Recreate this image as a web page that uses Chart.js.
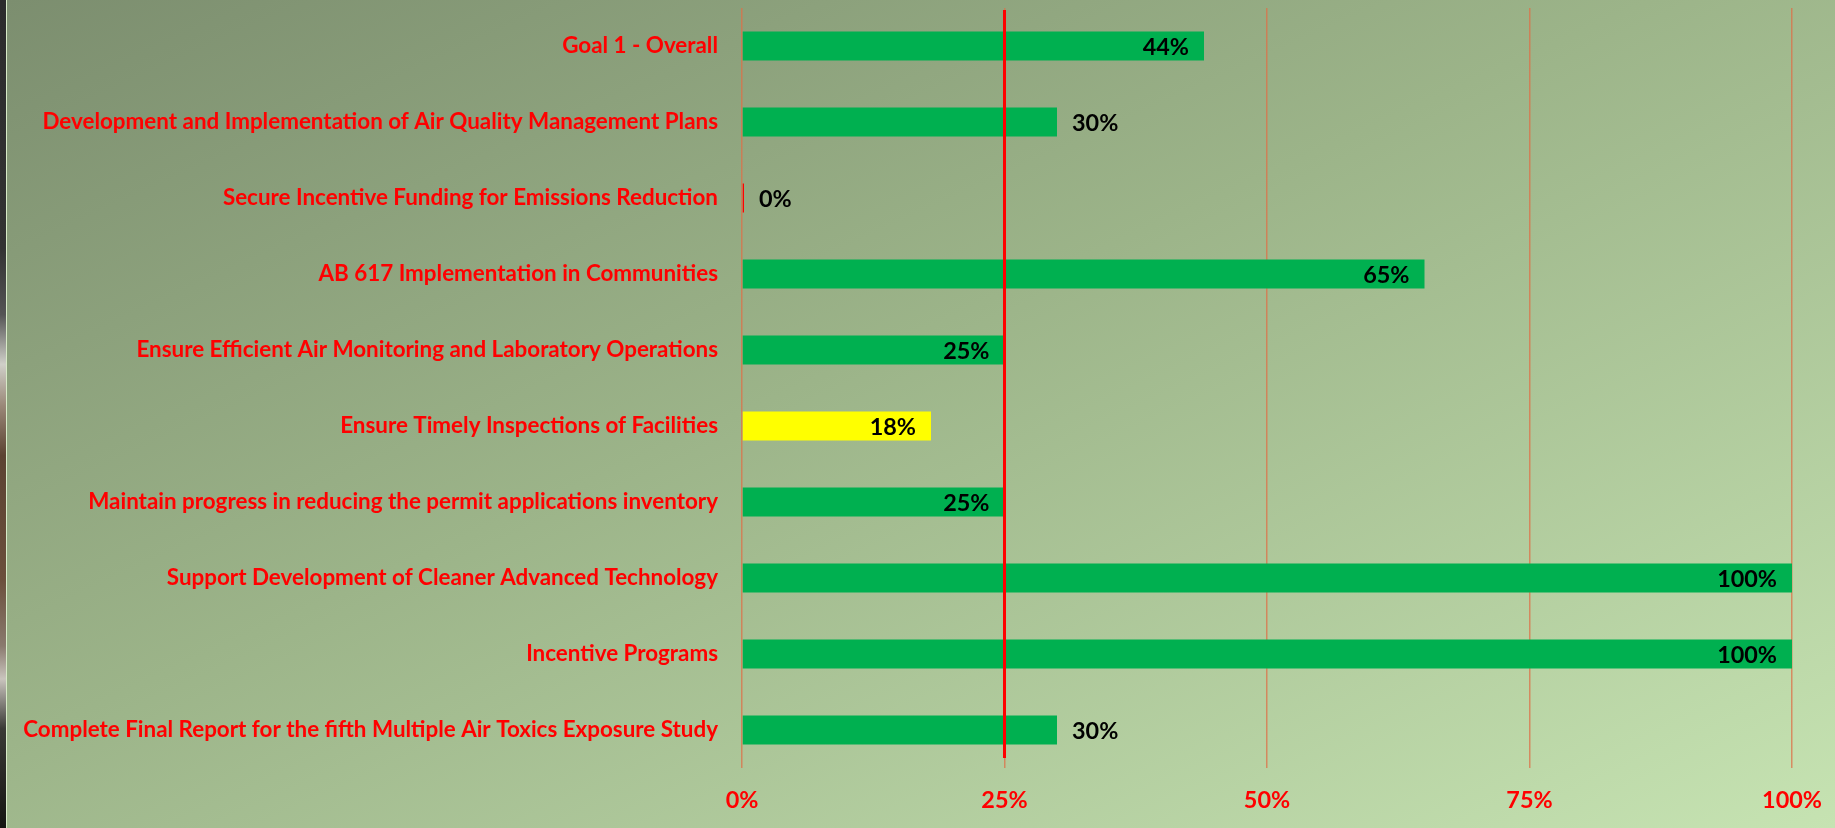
<!DOCTYPE html>
<html>
<head>
<meta charset="utf-8">
<script src="https://cdn.jsdelivr.net/npm/chart.js@4.4.1/dist/chart.umd.min.js"></script>
<style>
  html, body { margin: 0; padding: 0; width: 1835px; height: 828px; overflow: hidden; background: #1b1b1b; }
  #strip { position: absolute; left: 0; top: 0; width: 6px; height: 828px;
    background: linear-gradient(to bottom, #2c2c2c 0%, #333 30%, #555 38%, #cfcfc8 44%, #9a8878 49%, #5c4332 55%, #6b4f3c 70%, #8a7a6e 78%, #c9c4bd 82%, #3a3a36 88%, #151512 100%); }
  #edge { position: absolute; left: 6px; top: 0; width: 1px; height: 828px; background: #d7eac7; }
  #bg { position: absolute; left: 7px; top: 0; right: 0; bottom: 0;
    background: linear-gradient(to bottom right, #7c8e6f 0%, #9cb489 45%, #c6e3b2 100%); }
  #wrap { position: absolute; left: 0; top: 0; width: 1835px; height: 828px; }
</style>
</head>
<body>
<div id="strip"></div>
<div id="edge"></div>
<div id="bg"></div>
<div id="wrap"><canvas id="c" width="1835" height="828"></canvas></div>
<script>
// ---- data ----
const categories = [
  "Goal 1 - Overall",
  "Development and Implementation of Air Quality Management Plans",
  "Secure Incentive Funding for Emissions Reduction",
  "AB 617 Implementation in Communities",
  "Ensure Efficient Air Monitoring and Laboratory Operations",
  "Ensure Timely Inspections of Facilities",
  "Maintain progress in reducing the permit applications inventory",
  "Support Development of Cleaner Advanced Technology",
  "Incentive Programs",
  "Complete Final Report for the fifth Multiple Air Toxics Exposure Study"
];
const progressValues = [44, 30, 0, 65, 25, 18, 25, 100, 100, 30];
const xTickValues = [0, 25, 50, 75, 100];
const targetValue = 25;

// ---- styling ----
const labelInside = [true, false, false, true, true, true, true, true, true, false];
function barColor(v) {
  if (v === 0) return '#ff0000';
  if (v < targetValue) return '#ffff00';
  return '#00b050';
}

const FONT_FAMILY = 'Lato, "Open Sans", sans-serif';
const mctx = document.createElement('canvas').getContext('2d');
mctx.font = 'bold 100px ' + FONT_FAMILY;
const wLong = mctx.measureText(categories[9]).width;
const FS = Math.round(100 * 694 / wLong * 10) / 10;

const overlayPlugin = {
  id: 'overlay',
  afterDatasetsDraw(chart) {
    const ctx = chart.ctx;
    const xs = chart.scales.x;
    const area = chart.chartArea;
    // target line
    const tx = xs.getPixelForValue(targetValue);
    ctx.save();
    ctx.strokeStyle = '#ff0000';
    ctx.lineWidth = 3;
    ctx.beginPath();
    ctx.moveTo(tx, area.top + 2);
    ctx.lineTo(tx, area.bottom - 10);
    ctx.stroke();
    // value labels
    const meta = chart.getDatasetMeta(0);
    ctx.font = 'bold ' + (FS + 1) + 'px ' + FONT_FAMILY;
    ctx.fillStyle = '#000';
    ctx.textBaseline = 'middle';
    meta.data.forEach((bar, i) => {
      const txt = progressValues[i] + '%';
      if (labelInside[i]) {
        ctx.textAlign = 'right';
        ctx.fillText(txt, bar.x - 15, bar.y + 1);
      } else {
        ctx.textAlign = 'left';
        ctx.fillText(txt, bar.x + 15, bar.y + 1);
      }
    });
    ctx.restore();
  }
};

new Chart(document.getElementById('c'), {
  type: 'bar',
  data: {
    labels: categories,
    datasets: [{
      data: progressValues,
      backgroundColor: progressValues.map(barColor),
      borderWidth: 0,
      minBarLength: 2,
      categoryPercentage: 1,
      barPercentage: 0.38
    }]
  },
  options: {
    indexAxis: 'y',
    responsive: false,
    animation: false,
    layout: { padding: { top: 8, right: 43, left: 0, bottom: 0 } },
    plugins: { legend: { display: false }, tooltip: { enabled: false } },
    scales: {
      x: {
        min: 0, max: 100,
        afterBuildTicks(scale) { scale.ticks = xTickValues.map(v => ({ value: v })); },
        afterFit(scale) { scale.height = 60; scale.paddingLeft = 0; scale.paddingRight = 0; },
        grid: { color: 'rgba(222,112,72,0.75)', lineWidth: 1.5, drawTicks: false },
        border: { display: false },
        ticks: {
          padding: 18,
          color: '#ff0000',
          font: { family: FONT_FAMILY, weight: 'bold', size: FS + 1 },
          callback: v => v + '%'
        }
      },
      y: {
        afterFit(scale) { scale.width = 742; scale.paddingTop = 0; scale.paddingBottom = 0; },
        grid: { display: false, drawTicks: false },
        border: { display: false },
        ticks: {
          padding: 24,
          color: '#ff0000',
          font: { family: FONT_FAMILY, weight: 'bold', size: FS },
          autoSkip: false
        }
      }
    }
  },
  plugins: [overlayPlugin]
});
</script>
</body>
</html>
